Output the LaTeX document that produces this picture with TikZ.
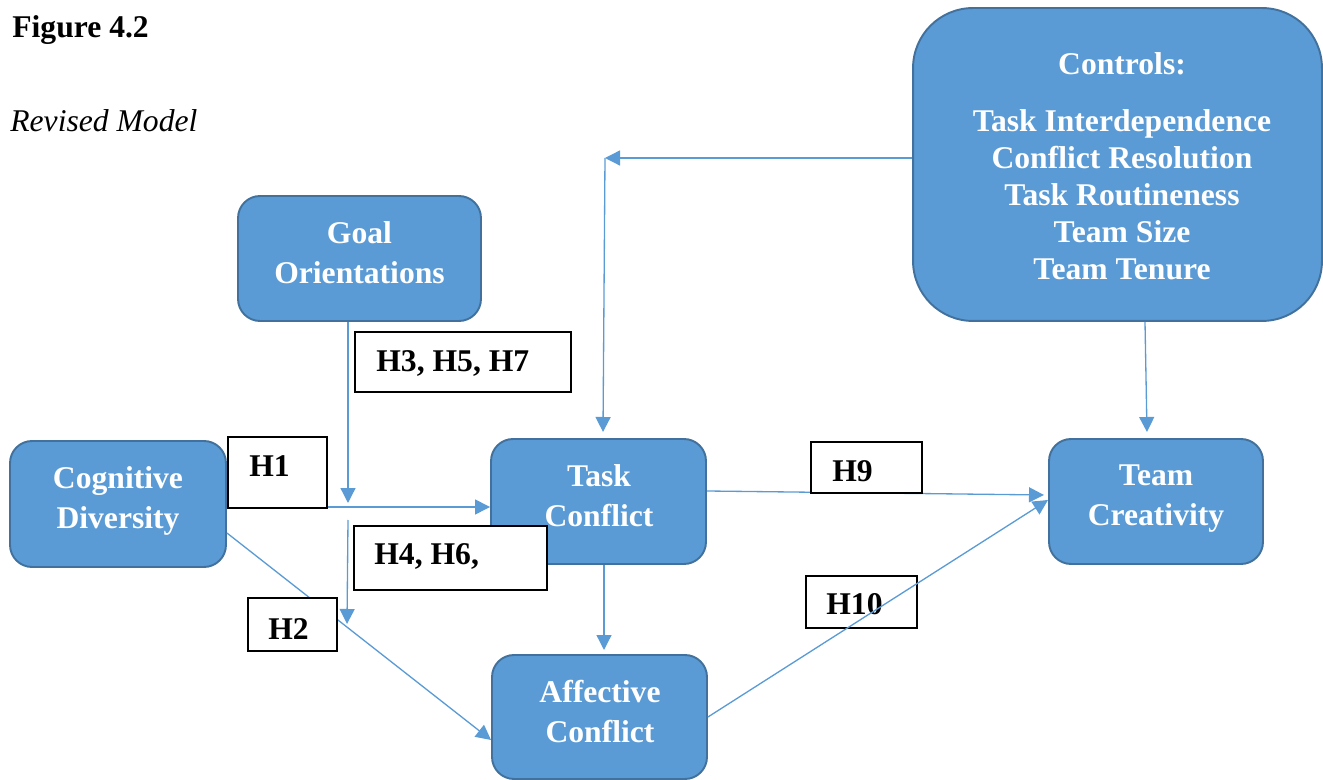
\documentclass[tikz,border=0pt]{standalone}
\usepackage{fontspec}
\setmainfont{Liberation Serif}
\usetikzlibrary{arrows.meta}
\definecolor{boxfill}{HTML}{5B9BD5}
\definecolor{boxline}{HTML}{41719C}
\definecolor{conn}{HTML}{5B9BD5}
\begin{document}
\begin{tikzpicture}[x=0.02cm,y=-0.02cm,
  box/.style={draw=boxline, line width=1.1pt, fill=boxfill, rounded corners=0.44cm, inner sep=0pt},
  boxtext/.style={text=white, font=\fontsize{18}{22.8}\selectfont\bfseries, align=center, inner sep=0pt},
  hbox/.style={draw=black, line width=0.8pt, fill=white, inner sep=0pt},
  htext/.style={font=\fontsize{18}{21}\selectfont\bfseries, anchor=base west, inner sep=0pt},
  arr/.style={draw=conn, line width=0.75pt, -{Triangle[length=0.3cm,width=0.3cm]}},
  titletext/.style={font=\fontsize{18}{22}\selectfont, anchor=base west, inner sep=0pt}]
\useasboundingbox (0,0) rectangle (1323,780);

% title
\node[titletext, font=\fontsize{18}{22}\selectfont\bfseries] (fig) at (12,38) {Figure 4.2};
\node[titletext, font=\fontsize{18}{22}\selectfont\itshape] (sub) at (10,132) {Revised Model};

% main boxes
\node[box, minimum width=4.86cm, minimum height=2.5cm] (goal) at (359.5,258.5) {};
\node[boxtext] (goalt) at (359.5,253) {Goal\\Orientations};
\node[box, minimum width=4.32cm, minimum height=2.52cm] (cog) at (118,504) {};
\node[boxtext] (cogt) at (118,501) {Cognitive\\Diversity};
\node[box, minimum width=4.3cm, minimum height=2.5cm] (tc) at (598.5,501.5) {};
\node[boxtext] (tct) at (599,496) {Task\\Conflict};
\node[box, minimum width=4.3cm, minimum height=2.48cm] (ac) at (599.5,717) {};
\node[boxtext] (act) at (600,711.5) {Affective\\Conflict};
\node[box, minimum width=4.28cm, minimum height=2.5cm] (cr) at (1156,501.5) {};
\node[boxtext] (crt) at (1156,499) {Team\\Creativity};
\node[box, rounded corners=1.2cm, minimum width=8.18cm, minimum height=6.26cm] (ctrl) at (1117.5,164.5) {};
\node[boxtext, font=\fontsize{18}{21}\selectfont\bfseries] (ctrlt) at (1122,166)
  {Controls:\\[11.4pt]Task Interdependence\\Conflict Resolution\\Task Routineness\\Team Size\\Team Tenure};

% H10 box lies under its connector
\node[hbox, minimum width=2.22cm, minimum height=1.04cm] (h10) at (861.5,602) {};
\node[htext] (h10t) at (826,615) {H10};

% connectors
\coordinate (c1) at (605,158);
\coordinate (c2) at (603,432);
\draw[arr] (ctrl.west |- c1) -- (c1);
\draw[arr] (c1) -- (c2);

\coordinate (g1) at (348,503);
\draw[arr] (goal.south -| g1) -- (g1);

\coordinate (hy) at (0,507);
\draw[arr] (cog.east |- hy) -- (tc.west |- hy);

\coordinate (m1) at (348,520);
\coordinate (m2) at (347,624);
\draw[arr] (m1) -- (m2);

\coordinate (d1) at (0,533);
\coordinate (d2) at (0,740);
\draw[arr] (cog.east |- d1) -- (ac.west |- d2);

\coordinate (v1) at (604,0);
\draw[arr] (tc.south -| v1) -- (v1 |- 0,650);

\coordinate (t1) at (0,491);
\coordinate (t2) at (1044,495);
\draw[arr] (tc.east |- t1) -- (t2);

\coordinate (a2) at (1048,500);
\draw[arr] (ac.east) -- (a2);

\coordinate (k1) at (1145,0);
\coordinate (k2) at (1147,432);
\draw[arr] (ctrl.south -| k1) -- (k2);

% hypothesis labels
\node[hbox, minimum width=4.32cm, minimum height=1.2cm] (h357) at (463,362) {};
\node[htext] (h357t) at (376,372) {H3, H5, H7};
\node[hbox, minimum width=1.98cm, minimum height=1.42cm] (h1) at (277.5,472.5) {};
\node[htext] (h1t) at (249,477) {H1};
\node[hbox, minimum width=3.86cm, minimum height=1.28cm] (h46) at (450.5,558) {};
\node[htext] (h46t) at (374,565) {H4, H6,};
\node[hbox, minimum width=1.78cm, minimum height=1.06cm] (h2) at (292.5,624.5) {};
\node[htext] (h2t) at (268,640) {H2};
\node[hbox, minimum width=2.22cm, minimum height=1.02cm] (h9) at (866.5,467.5) {};
\node[htext] (h9t) at (832,482) {H9};
\end{tikzpicture}
\end{document}
